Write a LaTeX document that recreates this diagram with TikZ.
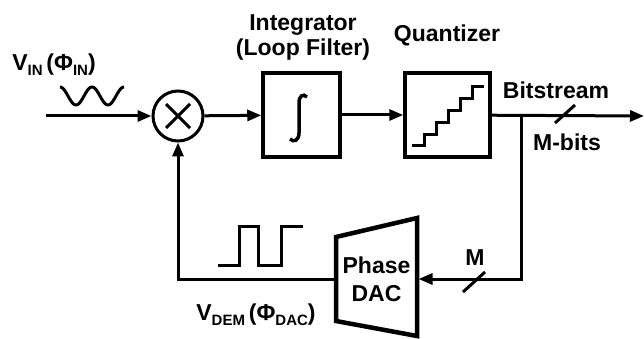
\documentclass[tikz,border=0pt]{standalone}
\usepackage{fontspec}
\setmainfont{Liberation Sans}
\usetikzlibrary{arrows.meta,positioning}
\newcommand{\subtx}[1]{\raisebox{-0.35ex}{\fontsize{15}{15}\selectfont #1}}

\begin{document}
\begin{tikzpicture}[x=1pt,y=-1pt,
		line width=3pt,
		>={Triangle[length=14pt,width=11pt]},
		txt/.style={font=\fontsize{23}{25}\selectfont\bfseries, inner sep=0pt},
		blk/.style={draw, line width=3.5pt, inner sep=0pt, minimum height=84pt},
		mixer/.style={draw, circle, minimum size=50pt, inner sep=0pt}]
	\useasboundingbox (0,0) rectangle (644,339);

	\node[mixer] (mix) at (178,116) {};
	\node[blk, minimum width=77pt] (int) at (301.5,115) {};
	\node[blk, minimum width=85pt] (quant) at (447.5,115) {};
	\node[txt, align=center, minimum width=81pt, font=\fontsize{23}{28}\selectfont\bfseries] (dac) at (376.5,279) {Phase\\DAC};
	\coordinate (in) at (46,116);
	\coordinate (out) at (644,116);
	\coordinate (br) at (521,116);

	% symbols inside the blocks
	\draw ([shift={(-12,-12)}]mix.center) -- ([shift={(12,12)}]mix.center)
		([shift={(-12,12)}]mix.center) -- ([shift={(12,-12)}]mix.center);
	\draw[line width=3.5pt] (307,97) .. controls (303,93) and (299,96) .. (299,103)
		-- (299,133) .. controls (299,140) and (294,143) .. (290,139);
	\draw (412,146) -- (424,146) \foreach \k in {1,...,5} { -- ++(0,-11.8) -- ++(12,0)};
	\draw[line width=4.5pt, line join=miter] (336,237) -- (417,218) -- (417,336) -- (336,321) -- cycle;

	% signals
	\draw plot[domain=0:720, samples=60] ({60+\x/11.25}, {96-9*cos(\x)});
	\draw (218,265) -- (239,265) -- (239,226) -- (258,226) -- (258,265)
		-- (281,265) -- (281,226) -- (303,226);

	% connections
	\draw[->] (in) -- (mix);
	\draw[->] (mix) -- (int);
	\draw[->] (int) -- (quant);
	\draw[->] (quant) -- (out);
	\draw[->] (br) |- (dac.east);
	\draw[->] (dac.west) -| (mix.south);
	\draw (555,123) -- (575,105);
	\draw (463,292) -- (485,272);

	% labels
	\node[txt] (vin) at (54,65) {V\subtx{IN}\,(Φ\subtx{IN})};
	\node[txt, align=center] (intlbl) at (303,37) {Integrator\\(Loop Filter)};
	\node[txt] (qlbl) at (447,35) {Quantizer};
	\node[txt] (bits) at (556,90) {Bitstream};
	\node[txt] (mbits) at (567,142) {M-bits};
	\node[txt] (mlbl) at (475,258) {M};
	\node[txt] (vdem) at (256,315) {V\subtx{DEM}\,(Φ\subtx{DAC})};
\end{tikzpicture}
\end{document}
